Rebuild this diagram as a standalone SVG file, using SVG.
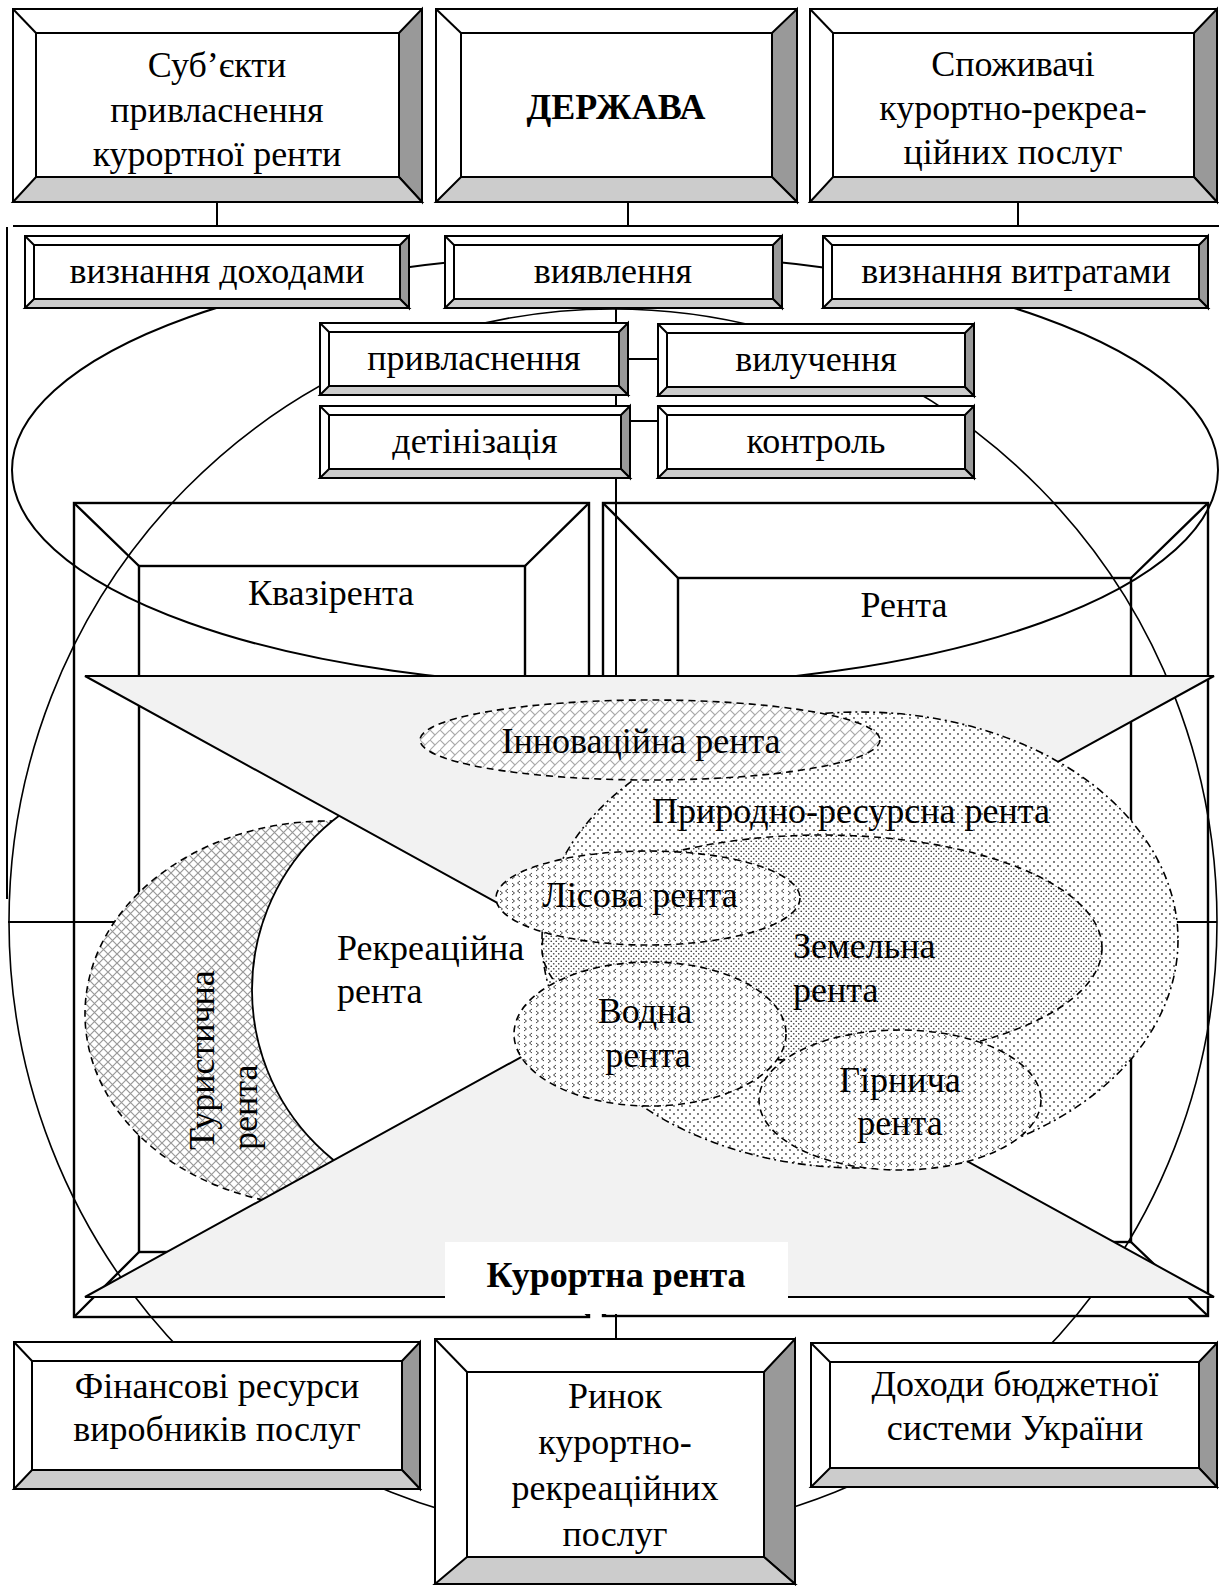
<svg xmlns="http://www.w3.org/2000/svg" width="1219" height="1586" viewBox="0 0 1219 1586">
<style>
.bv{fill:#fff;stroke:#000;stroke-width:2}
.dk{fill:#999;stroke:#000;stroke-width:2;stroke-linejoin:miter}
.lt{fill:#ccc;stroke:#000;stroke-width:2;stroke-linejoin:miter}
.ln{stroke:#000;stroke-width:2;fill:none}
.thin{stroke:#000;stroke-width:1.6;fill:none}
.fr{stroke:#000;stroke-width:2.4;fill:none}
.tri{fill:#f2f2f2;stroke:#000;stroke-width:2;stroke-linejoin:miter}
.t{font-family:"Liberation Serif","Times New Roman",serif;font-size:36px;fill:#000;text-anchor:middle}
.ts{font-family:"Liberation Serif","Times New Roman",serif;font-size:36px;fill:#000;text-anchor:start}
.b{font-weight:bold}
.dash{stroke:#000;stroke-width:1.6;stroke-dasharray:7 5}
.dashdot{stroke:#000;stroke-width:1.6;stroke-dasharray:8 4 2 4}
</style>
<defs>
<pattern id="pCross" width="9" height="9" patternUnits="userSpaceOnUse">
<rect width="9" height="9" fill="#fff"/>
<path d="M0,0 L9,9 M9,0 L0,9" stroke="#999" stroke-width="1.2"/>
</pattern>
<pattern id="pBrick" width="10" height="10" patternUnits="userSpaceOnUse">
<rect width="10" height="10" fill="#fff"/>
<path d="M0,10 L10,0 M0,0 L5,5" stroke="#aaa" stroke-width="1.1"/>
</pattern>
<pattern id="pDotSparse" width="8" height="8" patternUnits="userSpaceOnUse">
<rect width="8" height="8" fill="#fff"/>
<circle cx="2" cy="2" r="0.9" fill="#444"/>
<circle cx="6" cy="6" r="0.9" fill="#444"/>
</pattern>
<pattern id="pDotDense" width="5" height="5" patternUnits="userSpaceOnUse">
<rect width="5" height="5" fill="#fff"/>
<circle cx="1.25" cy="1.25" r="0.85" fill="#444"/>
<circle cx="3.75" cy="3.75" r="0.85" fill="#444"/>
</pattern>
<pattern id="pChev" width="12" height="8" patternUnits="userSpaceOnUse">
<rect width="12" height="8" fill="#fff"/>
<path d="M4,1 L1.5,3 L4,5 M8,3 L10.5,5 L8,7" stroke="#444" stroke-width="1" fill="none"/>
</pattern>
</defs>

<rect width="1219" height="1586" fill="#fff"/>

<!-- frames -->
<g id="frame-kvazirenta">
<rect x="74" y="503" width="515" height="814" class="fr"/>
<rect x="139" y="566" width="386" height="686" class="fr"/>
<path d="M74,503 L139,566 M589,503 L525,566 M74,1317 L139,1252 M589,1317 L525,1252" class="fr"/>
</g>
<g id="frame-renta">
<rect x="603" y="503" width="605" height="813" class="fr"/>
<rect x="678" y="578" width="453" height="664" class="fr"/>
<path d="M603,503 L678,578 M1208,503 L1131,578 M603,1316 L678,1242 M1208,1316 L1131,1242" class="fr"/>
</g>

<!-- connectors -->
<g id="connectors">
<line x1="217" y1="202" x2="217" y2="226" class="ln"/>
<line x1="628" y1="202" x2="628" y2="226" class="ln"/>
<line x1="1018" y1="202" x2="1018" y2="226" class="ln"/>
<line x1="13" y1="226" x2="1219" y2="226" class="ln"/>
<line x1="7" y1="227" x2="7" y2="899" class="ln"/>
<line x1="616" y1="308" x2="616" y2="676" class="ln"/>
<line x1="628" y1="359" x2="658" y2="359" class="ln"/>
<line x1="630" y1="421" x2="658" y2="421" class="ln"/>
<line x1="616" y1="1314" x2="616" y2="1339" class="ln"/>
<line x1="8" y1="922" x2="1217" y2="922" class="ln"/>
</g>

<!-- big ellipse and circle -->
<g id="outline-shapes">
<ellipse cx="615" cy="470" rx="603" ry="216" class="ln"/>
<ellipse cx="613" cy="922" rx="604" ry="613" class="thin"/>
</g>

<!-- tourist and recreation -->
<g id="tourist">
<ellipse cx="328" cy="1014" rx="243" ry="193" fill="url(#pCross)" class="dash"/>
</g>
<g id="recreation">
<circle cx="470" cy="990" r="218" fill="#fff" stroke="#000" stroke-width="1.8"/>
</g>

<!-- hourglass -->
<g id="hourglass">
<polygon points="85,676 1214,676 649.5,986.5" class="tri"/>
<polygon points="85,1297 1214,1297 649.5,986.5" class="tri"/>
</g>

<!-- rent ellipses -->
<g id="nature">
<ellipse cx="860" cy="940" rx="318" ry="228" fill="url(#pDotSparse)" class="dashdot"/>
</g>
<g id="land">
<ellipse cx="822" cy="948" rx="280" ry="113" fill="url(#pDotDense)" class="dash"/>
</g>
<g id="forest">
<ellipse cx="648" cy="898" rx="152" ry="47" fill="url(#pChev)" class="dash"/>
</g>
<g id="water">
<ellipse cx="650" cy="1034" rx="136" ry="72" fill="url(#pChev)" class="dash"/>
</g>
<g id="mining">
<ellipse cx="900" cy="1100" rx="141" ry="70" fill="url(#pChev)" class="dash"/>
</g>
<g id="innovation">
<ellipse cx="650" cy="740" rx="230" ry="40" fill="url(#pBrick)" class="dash"/>
</g>

<!-- texts inside -->
<g id="labels">
<text x="331" y="605" class="t">Квазірента</text>
<text x="904" y="617" class="t">Рента</text>
<text x="641" y="753" class="t">Інноваційна рента</text>
<text x="851" y="823" class="t">Природно-ресурсна рента</text>
<text x="640" y="907" class="t">Лісова рента</text>
<text x="793" y="958" class="ts">Земельна</text>
<text x="793" y="1002" class="ts">рента</text>
<text x="645" y="1023" class="t">Водна</text>
<text x="648" y="1067" class="t">рента</text>
<text x="900" y="1092" class="t">Гірнича</text>
<text x="900" y="1135" class="t">рента</text>
<text x="337" y="960" class="ts">Рекреаційна</text>
<text x="337" y="1003" class="ts">рента</text>
<text transform="translate(214,1150) rotate(-90)" class="ts">Туристична</text>
<text transform="translate(257,1150) rotate(-90)" class="ts">рента</text>
</g>

<g id="resort-rent">
<rect x="445" y="1242" width="343" height="72" fill="#fff"/>
<text x="616" y="1287" class="t b">Курортна рента</text>
</g>

<!-- small boxes -->
<g id="box-income">
<rect x="25" y="236" width="384" height="72" class="bv"/>
<polygon points="409,236 409,308 400,299 400,245" class="dk"/>
<polygon points="25,308 34,299 400,299 409,308" class="lt"/>
<line x1="25" y1="236" x2="34" y2="245" class="ln"/>
<rect x="34" y="245" width="366" height="54" class="bv"/>
<text x="217" y="283" class="t">визнання доходами</text>
</g>
<g id="box-detect">
<rect x="445" y="236" width="337" height="72" class="bv"/>
<polygon points="782,236 782,308 773,299 773,245" class="dk"/>
<polygon points="445,308 454,299 773,299 782,308" class="lt"/>
<line x1="445" y1="236" x2="454" y2="245" class="ln"/>
<rect x="454" y="245" width="319" height="54" class="bv"/>
<text x="613" y="283" class="t">виявлення</text>
</g>
<g id="box-expense">
<rect x="823" y="236" width="385" height="72" class="bv"/>
<polygon points="1208,236 1208,308 1199,299 1199,245" class="dk"/>
<polygon points="823,308 832,299 1199,299 1208,308" class="lt"/>
<line x1="823" y1="236" x2="832" y2="245" class="ln"/>
<rect x="832" y="245" width="367" height="54" class="bv"/>
<text x="1016" y="283" class="t">визнання витратами</text>
</g>
<g id="box-appropriation">
<rect x="320" y="323" width="308" height="72" class="bv"/>
<polygon points="628,323 628,395 619,386 619,332" class="dk"/>
<polygon points="320,395 329,386 619,386 628,395" class="lt"/>
<line x1="320" y1="323" x2="329" y2="332" class="ln"/>
<rect x="329" y="332" width="290" height="54" class="bv"/>
<text x="474" y="370" class="t">привласнення</text>
</g>
<g id="box-withdrawal">
<rect x="658" y="324" width="316" height="72" class="bv"/>
<polygon points="974,324 974,396 965,387 965,333" class="dk"/>
<polygon points="658,396 667,387 965,387 974,396" class="lt"/>
<line x1="658" y1="324" x2="667" y2="333" class="ln"/>
<rect x="667" y="333" width="298" height="54" class="bv"/>
<text x="816" y="371" class="t">вилучення</text>
</g>
<g id="box-deshadow">
<rect x="320" y="406" width="310" height="72" class="bv"/>
<polygon points="630,406 630,478 621,469 621,415" class="dk"/>
<polygon points="320,478 329,469 621,469 630,478" class="lt"/>
<line x1="320" y1="406" x2="329" y2="415" class="ln"/>
<rect x="329" y="415" width="292" height="54" class="bv"/>
<text x="475" y="453" class="t">детінізація</text>
</g>
<g id="box-control">
<rect x="658" y="406" width="316" height="72" class="bv"/>
<polygon points="974,406 974,478 965,469 965,415" class="dk"/>
<polygon points="658,478 667,469 965,469 974,478" class="lt"/>
<line x1="658" y1="406" x2="667" y2="415" class="ln"/>
<rect x="667" y="415" width="298" height="54" class="bv"/>
<text x="816" y="453" class="t">контроль</text>
</g>

<!-- top boxes -->
<g id="box-subjects">
<rect x="13" y="9" width="409" height="193" class="bv"/>
<polygon points="422,9 422,202 399,177 399,33" class="dk"/>
<polygon points="13,202 36,177 399,177 422,202" class="lt"/>
<line x1="13" y1="9" x2="36" y2="33" class="ln"/>
<rect x="36" y="33" width="363" height="144" class="bv"/>
<text x="217" y="77" class="t">Суб’єкти</text>
<text x="217" y="122" class="t">привласнення</text>
<text x="217" y="166" class="t">курортної ренти</text>
</g>
<g id="box-state">
<rect x="436" y="9" width="361" height="193" class="bv"/>
<polygon points="797,9 797,202 772,177 772,33" class="dk"/>
<polygon points="436,202 461,177 772,177 797,202" class="lt"/>
<line x1="436" y1="9" x2="461" y2="33" class="ln"/>
<rect x="461" y="33" width="311" height="144" class="bv"/>
<text x="616" y="119" class="t b">ДЕРЖАВА</text>
</g>
<g id="box-consumers">
<rect x="810" y="9" width="407" height="193" class="bv"/>
<polygon points="1217,9 1217,202 1194,177 1194,33" class="dk"/>
<polygon points="810,202 833,177 1194,177 1217,202" class="lt"/>
<line x1="810" y1="9" x2="833" y2="33" class="ln"/>
<rect x="833" y="33" width="361" height="144" class="bv"/>
<text x="1013" y="76" class="t">Споживачі</text>
<text x="1013" y="120" class="t">курортно-рекреа-</text>
<text x="1013" y="164" class="t">ційних послуг</text>
</g>

<!-- bottom boxes -->
<g id="box-finance">
<rect x="14" y="1342" width="406" height="147" class="bv"/>
<polygon points="420,1342 420,1489 402,1470 402,1361" class="dk"/>
<polygon points="14,1489 32,1470 402,1470 420,1489" class="lt"/>
<line x1="14" y1="1342" x2="32" y2="1361" class="ln"/>
<rect x="32" y="1361" width="370" height="109" class="bv"/>
<text x="217" y="1398" class="t">Фінансові ресурси</text>
<text x="217" y="1441" class="t">виробників послуг</text>
</g>
<g id="box-market">
<rect x="435" y="1339" width="360" height="245" class="bv"/>
<polygon points="795,1339 795,1584 764,1557 764,1372" class="dk"/>
<polygon points="435,1584 467,1557 764,1557 795,1584" class="lt"/>
<line x1="435" y1="1339" x2="467" y2="1372" class="ln"/>
<rect x="467" y="1372" width="297" height="185" class="bv"/>
<text x="615" y="1408" class="t">Ринок</text>
<text x="615" y="1454" class="t">курортно-</text>
<text x="615" y="1500" class="t">рекреаційних</text>
<text x="615" y="1546" class="t">послуг</text>
</g>
<g id="box-budget">
<rect x="811" y="1343" width="406" height="144" class="bv"/>
<polygon points="1217,1343 1217,1487 1199,1468 1199,1362" class="dk"/>
<polygon points="811,1487 830,1468 1199,1468 1217,1487" class="lt"/>
<line x1="811" y1="1343" x2="830" y2="1362" class="ln"/>
<rect x="830" y="1362" width="369" height="106" class="bv"/>
<text x="1015" y="1396" class="t">Доходи бюджетної</text>
<text x="1015" y="1440" class="t">системи України</text>
</g>
</svg>
